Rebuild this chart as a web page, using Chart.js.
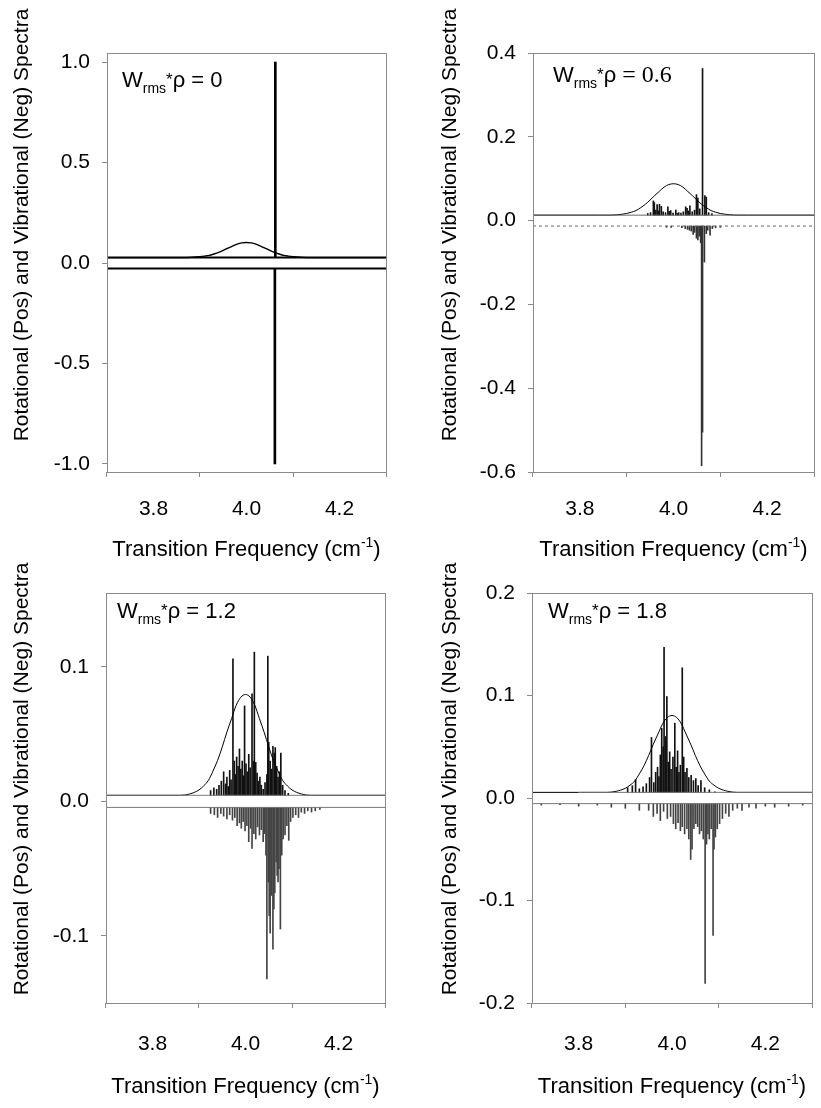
<!DOCTYPE html>
<html>
<head>
<meta charset="utf-8">
<script src="https://cdn.jsdelivr.net/npm/chart.js@4.4.1/dist/chart.umd.min.js"></script>
<style>
  html, body { margin: 0; padding: 0; background: #fff; }
  #page { position: relative; width: 821px; height: 1108px; overflow: hidden; }
  .panel { position: absolute; }
</style>
</head>
<body>
<div id="page">
  <div class="panel" style="left:0;top:0"><canvas id="p1" width="410" height="564"></canvas></div>
  <div class="panel" style="left:410px;top:0"><canvas id="p2" width="411" height="564"></canvas></div>
  <div class="panel" style="left:0;top:554px"><canvas id="p3" width="410" height="554"></canvas></div>
  <div class="panel" style="left:410px;top:554px"><canvas id="p4" width="411" height="554"></canvas></div>
</div>
<script>
// ---- shared axis / label text ----
const xTicks = [3.8, 4.0, 4.2];
const xTitle = 'Transition Frequency (cm';
const xTitleSup = '-1';
const yTitle = 'Rotational (Pos) and Vibrational (Neg) Spectra';
const wrmsRho = ['0', '0.6', '1.2', '1.8'];

// ---- Gaussian envelope (height above the rotational baseline) ----
const envelopeFreq = [3.70, 3.80, 3.84, 3.86, 3.88, 3.90, 3.91, 3.92, 3.93, 3.94, 3.95, 3.96, 3.97, 3.98, 3.99, 4.00,
                      4.01, 4.02, 4.03, 4.04, 4.05, 4.06, 4.07, 4.08, 4.09, 4.10, 4.12, 4.14, 4.16, 4.20, 4.30];
const envelopeHeight = [0, 0, 0, 0, 0.001, 0.004, 0.007, 0.011, 0.018, 0.026, 0.036, 0.047, 0.057, 0.067, 0.073, 0.075,
                        0.073, 0.067, 0.057, 0.047, 0.036, 0.026, 0.018, 0.011, 0.007, 0.004, 0.001, 0, 0, 0, 0];

// ---- panel 1: Wrms*rho = 0 ----
const p1YTicks = [-1.0, -0.5, 0.0, 0.5, 1.0];
const p1Offset = 0.027;
const p1RotFreq = [4.062];
const p1RotTip = [1.0];
const p1VibFreq = [4.061];
const p1VibTip = [-1.0];

// ---- panel 2: Wrms*rho = 0.6 ----
const p2YTicks = [-0.6, -0.4, -0.2, 0.0, 0.2, 0.4];
const p2Offset = 0.013;
const p2RotFreq = [3.945, 3.951, 3.957, 3.959, 3.962, 3.965, 3.968, 3.970, 3.974, 3.978, 3.983, 3.988, 3.991, 3.994,
                   3.999, 4.005, 4.008, 4.011, 4.016, 4.021, 4.026, 4.029, 4.032, 4.035, 4.040, 4.045, 4.049, 4.052,
                   4.056, 4.062, 4.067, 4.070, 4.075, 4.082];
const p2RotTip = [0.017, 0.019, 0.047, 0.043, 0.025, 0.038, 0.023, 0.039, 0.034, 0.021, 0.019, 0.033, 0.022, 0.024,
                  0.018, 0.025, 0.017, 0.019, 0.018, 0.021, 0.033, 0.029, 0.023, 0.035, 0.021, 0.025, 0.062, 0.054,
                  0.028, 0.363, 0.060, 0.056, 0.019, 0.017];
const p2VibFreq = [3.985, 3.995, 4.018, 4.025, 4.030, 4.034, 4.038, 4.042, 4.045, 4.049, 4.052, 4.055, 4.058, 4.060,
                   4.062, 4.066, 4.070, 4.073, 4.078, 4.083, 4.090, 4.100];
const p2VibTip = [-0.016, -0.016, -0.017, -0.019, -0.021, -0.023, -0.025, -0.033, -0.028, -0.042, -0.046, -0.037, -0.053, -0.585,
                  -0.505, -0.099, -0.031, -0.023, -0.035, -0.019, -0.017, -0.016];

// ---- panel 3: Wrms*rho = 1.2 ----
const p3YTicks = [-0.1, 0.0, 0.1];
const p3Offset = 0.0045;
const p3RotFreq = [3.925, 3.932, 3.938, 3.943, 3.948, 3.953, 3.957, 3.960, 3.963, 3.966, 3.969, 3.973, 3.976, 3.979,
                   3.981, 3.984, 3.987, 3.990, 3.993, 3.996, 3.998, 4.001, 4.004, 4.007, 4.010, 4.014, 4.017, 4.019,
                   4.022, 4.025, 4.028, 4.031, 4.034, 4.038, 4.042, 4.046, 4.048, 4.050, 4.053, 4.056, 4.059, 4.062,
                   4.064, 4.067, 4.070, 4.073, 4.076, 4.080, 4.085, 4.092];
const p3RotTip = [0.008, 0.010, 0.009, 0.012, 0.015, 0.022, 0.013, 0.018, 0.011, 0.023, 0.016, 0.106, 0.030, 0.020,
                  0.033, 0.026, 0.039, 0.024, 0.030, 0.019, 0.071, 0.028, 0.022, 0.035, 0.025, 0.080, 0.030, 0.111,
                  0.029, 0.021, 0.015, 0.018, 0.012, 0.009, 0.014, 0.020, 0.108, 0.044, 0.030, 0.024, 0.041, 0.036,
                  0.040, 0.026, 0.018, 0.022, 0.036, 0.012, 0.008, 0.006];
const p3VibFreq = [3.925, 3.933, 3.940, 3.947, 3.953, 3.960, 3.966, 3.972, 3.977, 3.982, 3.987, 3.991, 3.995, 3.999,
                   4.003, 4.007, 4.011, 4.014, 4.018, 4.022, 4.026, 4.030, 4.034, 4.038, 4.041, 4.044, 4.046, 4.049,
                   4.051, 4.053, 4.056, 4.059, 4.061, 4.063, 4.066, 4.068, 4.070, 4.072, 4.075, 4.078, 4.081, 4.085,
                   4.089, 4.093, 4.097, 4.102, 4.108, 4.114, 4.120, 4.127, 4.134, 4.142, 4.150, 4.160];
const p3VibTip = [-0.009, -0.010, -0.012, -0.009, -0.011, -0.013, -0.010, -0.014, -0.012, -0.018, -0.016, -0.020, -0.015, -0.022,
                  -0.018, -0.030, -0.020, -0.035, -0.024, -0.028, -0.019, -0.025, -0.021, -0.030, -0.024, -0.040, -0.132, -0.060,
                  -0.085, -0.098, -0.070, -0.110, -0.080, -0.068, -0.045, -0.055, -0.060, -0.050, -0.095, -0.040, -0.028, -0.025,
                  -0.018, -0.029, -0.015, -0.012, -0.010, -0.012, -0.008, -0.009, -0.007, -0.008, -0.007, -0.006];

// ---- panel 4: Wrms*rho = 1.8 ----
const p4YTicks = [-0.2, -0.1, 0.0, 0.1, 0.2];
const p4Offset = 0.0055;
const p4RotFreq = [3.905, 3.915, 3.922, 3.930, 3.938, 3.945, 3.952, 3.956, 3.961, 3.965, 3.969, 3.972, 3.975, 3.978,
                   3.981, 3.983, 3.986, 3.989, 3.992, 3.995, 3.998, 4.002, 4.006, 4.009, 4.012, 4.015, 4.018, 4.022,
                   4.025, 4.028, 4.032, 4.036, 4.041, 4.046, 4.051, 4.056, 4.062, 4.070, 4.080, 4.092];
const p4RotTip = [0.010, 0.012, 0.018, 0.009, 0.011, 0.014, 0.020, 0.059, 0.015, 0.025, 0.030, 0.021, 0.042, 0.068,
                  0.050, 0.147, 0.060, 0.099, 0.035, 0.045, 0.028, 0.040, 0.073, 0.030, 0.046, 0.025, 0.032, 0.127,
                  0.040, 0.025, 0.029, 0.020, 0.022, 0.017, 0.019, 0.012, 0.017, 0.010, 0.008, 0.006];
const p4VibFreq = [3.720, 3.760, 3.800, 3.840, 3.870, 3.900, 3.930, 3.950, 3.960, 3.968, 3.975, 3.982, 3.990, 3.997,
                   4.003, 4.008, 4.013, 4.018, 4.022, 4.027, 4.032, 4.036, 4.040, 4.043, 4.047, 4.051, 4.055, 4.059,
                   4.063, 4.067, 4.071, 4.074, 4.077, 4.080, 4.084, 4.088, 4.090, 4.093, 4.097, 4.102, 4.108, 4.115,
                   4.122, 4.130, 4.140, 4.150, 4.165, 4.180, 4.200, 4.220, 4.250, 4.280];
const p4VibTip = [-0.007, -0.0065, -0.008, -0.007, -0.009, -0.010, -0.012, -0.012, -0.018, -0.015, -0.022, -0.013, -0.020, -0.018,
                  -0.025, -0.030, -0.024, -0.032, -0.028, -0.035, -0.030, -0.040, -0.060, -0.050, -0.030, -0.025, -0.028, -0.035,
                  -0.032, -0.040, -0.181, -0.045, -0.035, -0.040, -0.030, -0.134, -0.050, -0.038, -0.030, -0.025, -0.020, -0.015,
                  -0.018, -0.012, -0.010, -0.012, -0.009, -0.010, -0.008, -0.009, -0.008, -0.007];

// ---- drawing ----
const SANS = '"Liberation Sans", Arial, sans-serif';
const SERIF = '"Liberation Serif", "Times New Roman", serif';

const panels = [
  { id: 'p1', text: wrmsRho[0], yMin: -1.04, yMax: 1.045, yTicks: p1YTicks, off: p1Offset,
    rotF: p1RotFreq, rotT: p1RotTip, vibF: p1VibFreq, vibT: p1VibTip,
    rotRange: [3.7, 4.3], vibRange: [3.7, 4.3],
    area: { l: 107, r: 386, t: 53, b: 472 }, W: 410, H: 564, xPad: 20,
    stickW: 2, rotColor: '#000', vibColor: '#000', baseW: 2, baseColor: '#000', vibDash: [], envW: 1.4,
    yTitleX: 22, xTitleY: 548, label: { dx: 15, dy: 34, serifTail: false } },
  { id: 'p2', text: wrmsRho[1], yMin: -0.6, yMax: 0.4, yTicks: p2YTicks, off: p2Offset,
    rotF: p2RotFreq, rotT: p2RotTip, vibF: p2VibFreq, vibT: p2VibTip,
    rotRange: [3.7, 4.3], vibRange: [3.7, 4.3],
    area: { l: 123, r: 404, t: 53, b: 472 }, W: 411, H: 564, xPad: 20,
    stickW: 1, rotColor: '#111', vibColor: '#333', baseW: 1, baseColor: '#666', vibDash: [3, 3], envW: 1,
    yTitleX: 40, xTitleY: 548, label: { dx: 20, dy: 29, serifTail: true } },
  { id: 'p3', text: wrmsRho[2], yMin: -0.15, yMax: 0.155, yTicks: p3YTicks, off: p3Offset,
    rotF: p3RotFreq, rotT: p3RotTip, vibF: p3VibFreq, vibT: p3VibTip,
    rotRange: [3.7, 4.3], vibRange: [3.7, 4.3],
    area: { l: 106, r: 385, t: 39, b: 449 }, W: 410, H: 554, xPad: 24,
    stickW: 1, rotColor: '#111', vibColor: '#444', baseW: 1, baseColor: '#777', vibDash: [], envW: 1,
    yTitleX: 22, xTitleY: 531, label: { dx: 11, dy: 25, serifTail: false } },
  { id: 'p4', text: wrmsRho[3], yMin: -0.2, yMax: 0.2, yTicks: p4YTicks, off: p4Offset,
    rotF: p4RotFreq, rotT: p4RotTip, vibF: p4VibFreq, vibT: p4VibTip,
    rotRange: [3.8, 4.3], vibRange: [3.7, 4.3],
    area: { l: 122, r: 402, t: 39, b: 449 }, W: 411, H: 554, xPad: 24,
    stickW: 1, rotColor: '#111', vibColor: '#444', baseW: 1, baseColor: '#777', vibDash: [], envW: 1,
    yTitleX: 40, xTitleY: 531, label: { dx: 16, dy: 25, serifTail: false } }
];

// draws a run of text pieces left to right: [text, font, baseline shift]
function drawRun(ctx, x, y, pieces, align) {
  let total = 0;
  pieces.forEach(q => { ctx.font = q[1]; total += ctx.measureText(q[0]).width; });
  let cx = align === 'center' ? x - total / 2 : x;
  pieces.forEach(q => {
    ctx.font = q[1];
    ctx.fillText(q[0], cx, y + q[2]);
    cx += ctx.measureText(q[0]).width;
  });
}

// frame, axis titles and the Wrms*rho label for one panel
function decorations(p) {
  return {
    id: 'decorations',
    afterDraw(chart) {
      const { ctx, chartArea: a } = chart;
      ctx.save();
      ctx.strokeStyle = '#8a8a8a';
      ctx.lineWidth = 1;
      ctx.strokeRect(Math.round(a.left) + 0.5, Math.round(a.top) + 0.5,
                     Math.round(a.right - a.left), Math.round(a.bottom - a.top));
      ctx.fillStyle = '#000';
      // y title
      ctx.save();
      ctx.translate(p.yTitleX, 225);
      ctx.rotate(-Math.PI / 2);
      ctx.font = '21px ' + SANS;
      ctx.textAlign = 'center';
      ctx.textBaseline = 'middle';
      ctx.fillText(yTitle, 0, 0);
      ctx.restore();
      // x title with superscript
      ctx.textAlign = 'left';
      ctx.textBaseline = 'alphabetic';
      drawRun(ctx, (a.left + a.right) / 2, p.xTitleY + 8, [
        [xTitle, '22px ' + SANS, 0],
        [xTitleSup, '14px ' + SANS, -9],
        [')', '22px ' + SANS, 0]
      ], 'center');
      // panel label
      const tailFont = p.label.serifTail ? '24px ' + SERIF : '22px ' + SANS;
      drawRun(ctx, a.left + p.label.dx, a.top + p.label.dy, [
        ['W', '22px ' + SANS, 0],
        ['rms', '14px ' + SANS, 6],
        ['*', '17px ' + SANS, -2],
        ['\u03C1', '22px ' + SANS, 0],
        [' = ' + p.text, tailFont, 0]
      ], 'left');
      ctx.restore();
    }
  };
}

panels.forEach(p => {
  const envData = envelopeFreq.map((f, i) => ({ x: f, y: p.off + envelopeHeight[i] }));
  const rotData = p.rotF.map((f, i) => ({ x: f, y: [p.off, p.rotT[i]] }));
  const vibData = p.vibF.map((f, i) => ({ x: f, y: [-p.off, p.vibT[i]] }));
  const tickFont = { family: SANS, size: 21 };

  new Chart(document.getElementById(p.id), {
    type: 'bar',
    data: {
      datasets: [
        { type: 'line', label: 'rotational baseline',
          data: [{ x: p.rotRange[0], y: p.off }, { x: p.rotRange[1], y: p.off }],
          borderColor: p.baseColor, borderWidth: p.baseW, pointRadius: 0 },
        { type: 'line', label: 'vibrational baseline',
          data: [{ x: p.vibRange[0], y: -p.off }, { x: p.vibRange[1], y: -p.off }],
          borderColor: p.baseColor, borderWidth: p.baseW, borderDash: p.vibDash, pointRadius: 0 },
        { type: 'line', label: 'Gaussian envelope', data: envData,
          borderColor: '#000', borderWidth: p.envW, pointRadius: 0, cubicInterpolationMode: 'monotone' },
        { label: 'rotational', data: rotData, backgroundColor: p.rotColor, borderWidth: 0,
          barThickness: p.stickW, grouped: false },
        { label: 'vibrational', data: vibData, backgroundColor: p.vibColor, borderWidth: 0,
          barThickness: p.stickW, grouped: false }
      ]
    },
    options: {
      responsive: false,
      animation: false,
      devicePixelRatio: 1,
      events: [],
      layout: { padding: { left: 0, top: p.area.t, right: p.W - p.area.r, bottom: 0 } },
      plugins: { legend: { display: false }, tooltip: { enabled: false } },
      scales: {
        x: {
          type: 'linear', min: 3.7, max: 4.3, offset: false,
          afterBuildTicks: s => { s.ticks = xTicks.map(v => ({ value: v })); },
          afterFit: s => { s.height = p.H - p.area.b; },
          ticks: { font: tickFont, color: '#000', padding: p.xPad, maxRotation: 0, autoSkip: false,
                   callback: v => Number(v).toFixed(1) },
          grid: { drawOnChartArea: false, drawTicks: true, tickLength: 5, color: '#8a8a8a' },
          border: { display: false }
        },
        y: {
          type: 'linear', min: p.yMin, max: p.yMax,
          afterBuildTicks: s => { s.ticks = p.yTicks.map(v => ({ value: v })); },
          afterFit: s => { s.width = p.area.l; },
          ticks: { font: tickFont, color: '#000', padding: 12, autoSkip: false,
                   callback: v => Number(v).toFixed(1) },
          grid: { drawOnChartArea: false, drawTicks: true, tickLength: 5, color: '#8a8a8a' },
          border: { display: false }
        }
      }
    },
    plugins: [decorations(p)]
  });
});
</script>
</body>
</html>
